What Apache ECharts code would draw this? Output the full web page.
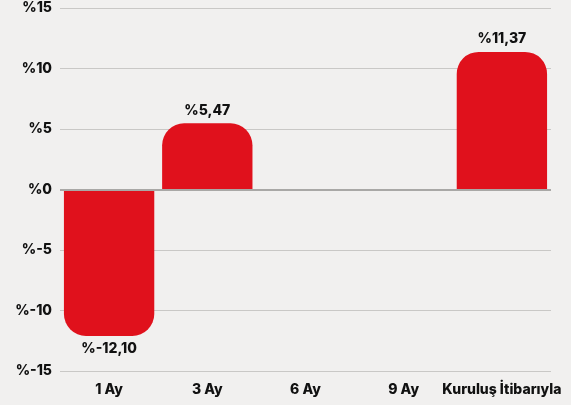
<!DOCTYPE html>
<html>
<head>
<meta charset="utf-8">
<style>
  html, body { margin: 0; padding: 0; background: #f1f0ef; }
  #chart { width: 571px; height: 405px; }
</style>
<script src="https://cdn.jsdelivr.net/npm/echarts@6/dist/echarts.min.js"></script>
</head>
<body>
<div id="chart"></div>
<script>
const categories = ['1 Ay', '3 Ay', '6 Ay', '9 Ay', 'Kuruluş İtibarıyla'];
const returns = [-12.10, 5.47, null, null, 11.37];
const yTicks = { min: -15, max: 15, interval: 5 };

const fmt = v => '%' + v.toFixed(2).replace('.', ',');

const chart = echarts.init(document.getElementById('chart'));
chart.setOption({
    backgroundColor: '#f1f0ef',
    textStyle: { fontFamily: 'Inter' },
    grid: { left: 60, right: 20, top: 8, bottom: 34 },
    xAxis: {
        type: 'category',
        data: categories,
        axisLine: { show: false },
        axisTick: { show: false },
        axisLabel: { color: '#111', fontWeight: 800, fontSize: 14, margin: 12, interval: 0 }
    },
    yAxis: {
        type: 'value',
        min: yTicks.min,
        max: yTicks.max,
        interval: yTicks.interval,
        axisLine: { show: false },
        axisTick: { show: false },
        axisLabel: {
            color: '#111', fontWeight: 800, fontSize: 14, margin: 8,
            formatter: v => '%' + v
        },
        splitLine: { lineStyle: { color: '#c9c8c6', width: 1 } }
    },
    series: [{
        type: 'bar',
        barCategoryGap: '8%',
        data: returns.map(v => v == null ? null : {
            value: v,
            itemStyle: { borderRadius: v < 0 ? [0, 0, 22, 22] : [22, 22, 0, 0] },
            label: { position: v < 0 ? 'bottom' : 'top' }
        }),
        itemStyle: { color: '#e0111c' },
        label: {
            show: true,
            color: '#111',
            fontWeight: 800,
            fontSize: 14,
            distance: 6,
            formatter: p => fmt(p.value)
        },
        markLine: {
            silent: true,
            symbol: 'none',
            label: { show: false },
            lineStyle: { color: '#a9a8a6', width: 2, type: 'solid' },
            data: [{ yAxis: 0 }]
        }
    }]
});
</script>
</body>
</html>
